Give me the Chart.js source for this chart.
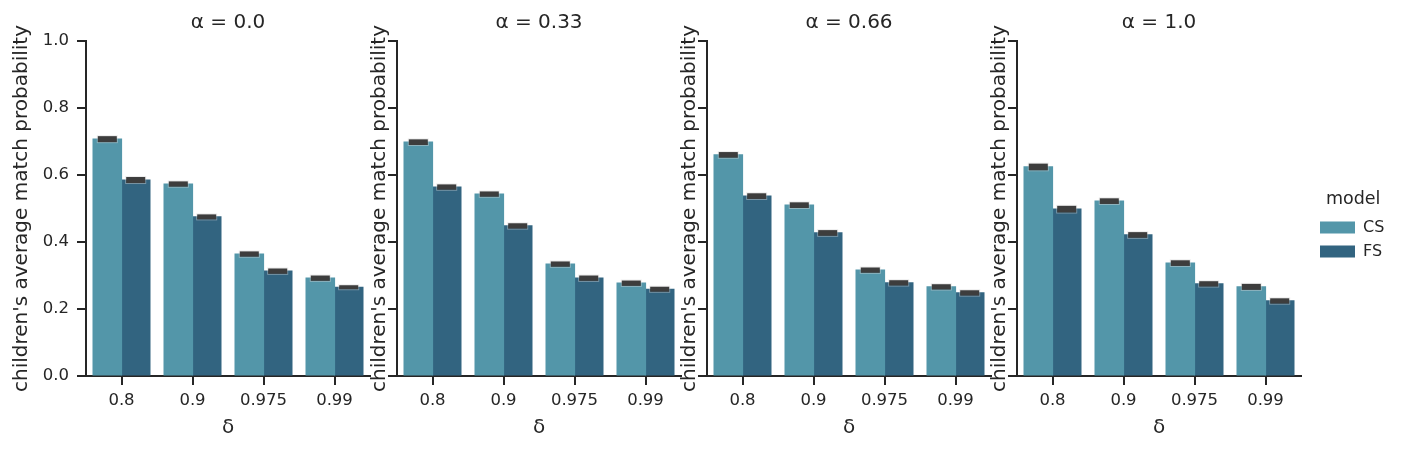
<!DOCTYPE html>
<html><head><meta charset="utf-8">
<script src="https://cdn.jsdelivr.net/npm/chart.js@4.4.1/dist/chart.umd.min.js"></script>
<style>
html,body{margin:0;padding:0;background:#fff;width:1408px;height:452px;overflow:hidden;}
canvas{position:absolute;top:0;}
</style></head><body>
<canvas id="p0"></canvas>
<canvas id="p1"></canvas>
<canvas id="p2"></canvas>
<canvas id="p3"></canvas>
<canvas id="leg"></canvas>
<script>
// ---- data ----
const deltas = ['0.8', '0.9', '0.975', '0.99'];
const alphas = ['0.0', '0.33', '0.66', '1.0'];
const models = ['CS', 'FS'];
const yTicks = [0, 0.2, 0.4, 0.6, 0.8, 1.0];

const csA00 = [0.707, 0.573, 0.364, 0.292];
const fsA00 = [0.585, 0.475, 0.313, 0.265];
const csA33 = [0.698, 0.543, 0.334, 0.277];
const fsA33 = [0.564, 0.448, 0.292, 0.259];
const csA66 = [0.660, 0.510, 0.316, 0.266];
const fsA66 = [0.537, 0.427, 0.278, 0.248];
const csA10 = [0.624, 0.522, 0.337, 0.266];
const fsA10 = [0.498, 0.421, 0.275, 0.224];

const ciCsA00 = [0.0045, 0.0035, 0.0035, 0.0035];
const ciFsA00 = [0.0045, 0.003, 0.0035, 0.0015];
const ciCsA33 = [0.004, 0.0035, 0.0035, 0.0035];
const ciFsA33 = [0.0035, 0.0035, 0.0035, 0.003];
const ciCsA66 = [0.004, 0.004, 0.0035, 0.0035];
const ciFsA66 = [0.004, 0.004, 0.0035, 0.0035];
const ciCsA10 = [0.0055, 0.004, 0.004, 0.0045];
const ciFsA10 = [0.0055, 0.004, 0.0035, 0.0035];

// ---- style ----
const csColor = 'rgb(83,150,169)';
const fsColor = 'rgb(50,100,128)';
const ink = '#262626';
Chart.defaults.font.family = 'DejaVu Sans';
Chart.defaults.color = ink;

const errPlugin = {
  id: 'errbars',
  afterDatasetsDraw(chart) {
    const ctx = chart.ctx;
    const ys = chart.scales.y;
    chart.data.datasets.forEach((ds, di) => {
      const meta = chart.getDatasetMeta(di);
      meta.data.forEach((bar, i) => {
        const v = ds.data[i], ci = ds.ci[i];
        const yTop = ys.getPixelForValue(v + ci) - 1.5;
        const yBot = ys.getPixelForValue(v - ci) + 1.5;
        const w = bar.width * 0.67;
        ctx.save();
        ctx.strokeStyle = 'rgba(215,215,215,0.45)';
        ctx.lineWidth = 1;
        ctx.strokeRect(bar.x - w / 2 - 0.5, yTop - 0.5, w + 1, yBot - yTop + 1);
        ctx.fillStyle = '#3d3d3d';
        ctx.fillRect(bar.x - w / 2, yTop, w, yBot - yTop);
        ctx.restore();
      });
    });
  }
};

const axisX = [86, 397, 707, 1017];
const plotW = 284;
const panelData = [
  [csA00, fsA00, ciCsA00, ciFsA00],
  [csA33, fsA33, ciCsA33, ciFsA33],
  [csA66, fsA66, ciCsA66, ciFsA66],
  [csA10, fsA10, ciCsA10, ciFsA10]
];

panelData.forEach((pd, p) => {
  const yw = p === 0 ? 86 : 40;
  const cv = document.getElementById('p' + p);
  cv.width = yw + plotW + 2;
  cv.height = 452;
  cv.style.left = (axisX[p] - yw) + 'px';
  new Chart(cv, {
    type: 'bar',
    data: {
      labels: deltas,
      datasets: [
        { label: models[0], data: pd[0], ci: pd[2], backgroundColor: csColor, borderWidth: 0, inflateAmount: 0.6, xAxisID: 'x', yAxisID: 'y' },
        { label: models[1], data: pd[1], ci: pd[3], backgroundColor: fsColor, borderWidth: 0, inflateAmount: 0.6, xAxisID: 'x', yAxisID: 'y' }
      ]
    },
    options: {
      responsive: false,
      animation: false,
      layout: { padding: { left: 0, right: 2, top: 0, bottom: 0 } },
      datasets: { bar: { categoryPercentage: 0.8, barPercentage: 1.0 } },
      plugins: { legend: { display: false }, tooltip: { enabled: false } },
      scales: {
        x: {
          type: 'category',
          position: 'bottom',
          grid: { offset: false, drawOnChartArea: false, drawTicks: true, tickLength: 9, color: ink, lineWidth: 2 },
          border: { display: true, color: ink, width: 2 },
          ticks: { font: { size: 16.5 }, color: ink, padding: 6, maxRotation: 0, autoSkip: false },
          title: { display: true, text: 'δ', font: { size: 20 }, color: ink, padding: { top: 0, bottom: 12 } },
          afterFit(s) { s.height = 76; }
        },
        xTop: {
          type: 'category',
          position: 'top',
          grid: { display: false },
          border: { display: false },
          ticks: { display: false },
          title: { display: true, text: 'α = ' + alphas[p], font: { size: 20 }, color: ink, padding: { top: 11, bottom: 0 } },
          afterFit(s) { s.height = 41; }
        },
        y: {
          type: 'linear',
          position: 'left',
          min: 0, max: 1,
          afterBuildTicks(s) { s.ticks = yTicks.map(v => ({ value: v })); },
          grid: { drawOnChartArea: false, drawTicks: true, tickLength: 9, color: ink, lineWidth: 2 },
          border: { display: true, color: ink, width: 2 },
          ticks: { font: { size: 16.5 }, color: ink, padding: 8, callback: v => (p === 0 ? Number(v).toFixed(1) : '') },
          title: { display: true, text: "children's average match probability", font: { size: 20 }, color: ink, padding: { top: p === 0 ? 10 : 11, bottom: 0 } },
          afterFit(s) { s.width = yw; }
        }
      }
    },
    plugins: [errPlugin]
  });
});

// legend
const lg = document.getElementById('leg');
lg.width = 300; lg.height = 452;
lg.style.left = '1312px';
new Chart(lg, {
  type: 'bar',
  data: {
    labels: [],
    datasets: [
      { label: models[0], data: [], backgroundColor: csColor, borderWidth: 0 },
      { label: models[1], data: [], backgroundColor: fsColor, borderWidth: 0 }
    ]
  },
  options: {
    responsive: false,
    animation: false,
    scales: { x: { display: false }, y: { display: false } },
    plugins: {
      tooltip: { enabled: false },
      legend: {
        display: true, position: 'left', align: 'center',
        title: { display: true, text: 'model', font: { size: 17.5 }, color: ink, padding: { top: 6, bottom: 0 } },
        labels: { boxWidth: 35, boxHeight: 12, font: { size: 16 }, color: ink, padding: 8 }
      }
    }
  }
});
</script>
</body></html>
